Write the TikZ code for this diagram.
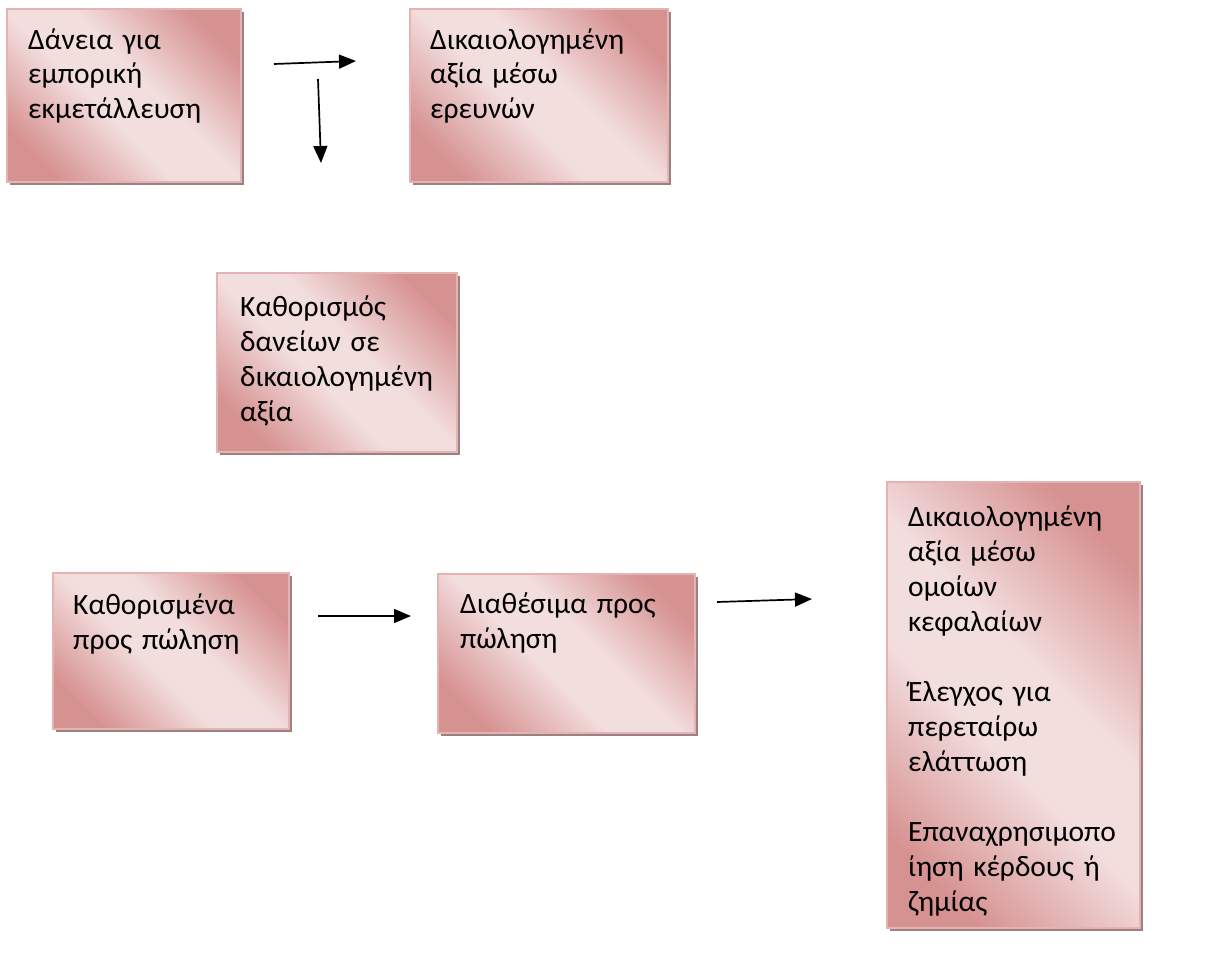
\documentclass[tikz,border=0pt]{standalone}
\usepackage{fontspec}
\setmainfont{Carlito}
\usetikzlibrary{arrows.meta,shadows}
\definecolor{rdark}{RGB}{214,146,145}
\definecolor{rlight}{RGB}{243,222,222}
\definecolor{rborder}{RGB}{228,180,180}
\definecolor{rshadow}{RGB}{145,115,115}
\pgfdeclarehorizontalshading{rosediag}{100bp}{color(0bp)=(rdark); color(24bp)=(rdark); color(44bp)=(rlight); color(56bp)=(rlight); color(76bp)=(rdark); color(100bp)=(rdark)}
\tikzset{
  box/.style={draw=rborder, line width=1.2pt, shading=rosediag, shading angle=45,
    anchor=north west, inner sep=0pt, outer sep=0pt,
    drop shadow={shadow xshift=3pt, shadow yshift=-3pt, fill=rshadow, opacity=0.9}},
  txt/.style={anchor=base west, inner sep=0pt, text width=240pt, align=left,
    font=\fontsize{29.5}{35}\selectfont},
  arr/.style={line width=1.7pt, -{Triangle[length=17pt,width=14pt]}}
}
\begin{document}
\begin{tikzpicture}[x=1pt,y=-1pt]
\useasboundingbox (0,0) rectangle (1215,958);
% boxes
\node[box, minimum width=234pt, minimum height=173pt] (b1) at (7,9) {};
\node[box, minimum width=258pt, minimum height=173pt] (b2) at (410,9) {};
\node[box, minimum width=240pt, minimum height=179pt] (b3) at (217,273) {};
\node[box, minimum width=236pt, minimum height=156pt] (b4) at (53,573) {};
\node[box, minimum width=257pt, minimum height=159pt] (b5) at (438,574) {};
\node[box, minimum width=253pt, minimum height=446pt] (b6) at (887,482) {};
% texts
\node[txt] (t1) at (28,49) {Δάνεια για\\εμπορική\\εκμετάλλευση};
\node[txt] (t2) at (430,49) {Δικαιολογημένη\\αξία μέσω\\ερευνών};
\node[txt] (t3) at (240,316) {Καθορισμός\\δανείων σε\\δικαιολογημένη\\αξία};
\node[txt] (t4) at (73,614) {Καθορισμένα\\προς πώληση};
\node[txt] (t5) at (460,613) {Διαθέσιμα προς\\πώληση};
\node[txt] (t6) at (908,526) {Δικαιολογημένη\\αξία μέσω\\ομοίων\\κεφαλαίων\\[35pt]Έλεγχος για\\περεταίρω\\ελάττωση\\[35pt]Επαναχρησιμοπο\\ίηση κέρδους ή\\ζημίας};
% arrows
\coordinate (a1s) at (274,64);
\coordinate (a1e) at (356,61);
\coordinate (a2s) at (318,79);
\coordinate (a2e) at (321,163);
\coordinate (a3s) at (318,616);
\coordinate (a3e) at (411,616);
\coordinate (a4s) at (717,602);
\coordinate (a4e) at (812,599);
\draw[arr] (a1s) -- (a1e);
\draw[arr] (a2s) -- (a2e);
\draw[arr] (a3s) -- (a3e);
\draw[arr] (a4s) -- (a4e);
\end{tikzpicture}
\end{document}
